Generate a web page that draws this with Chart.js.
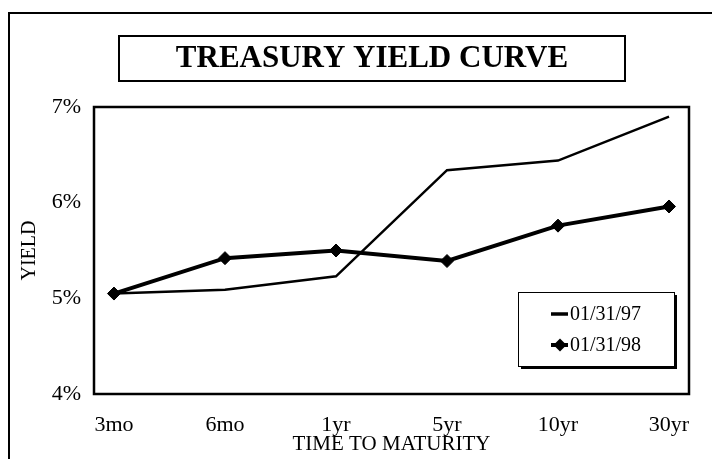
<!DOCTYPE html>
<html>
<head>
<meta charset="utf-8">
<script src="https://cdn.jsdelivr.net/npm/chart.js@4"></script>
<style>
  html, body { margin: 0; padding: 0; background: #ffffff; }
  #wrap { width: 712px; height: 459px; position: relative; }
</style>
</head>
<body>
<div id="wrap"><canvas id="c" width="712" height="459"></canvas></div>
<script>
// ---- data ----
const categories = ["3mo", "6mo", "1yr", "5yr", "10yr", "30yr"];
const yields9701 = [5.05, 5.09, 5.23, 6.34, 6.44, 6.90];
const yields9801 = [5.05, 5.42, 5.50, 5.39, 5.76, 5.96];
const seriesLabels = ["01/31/97", "01/31/98"];
const yTickValues = [4, 5, 6, 7];
const titleText = "TREASURY YIELD CURVE";
const xTitle = "TIME TO MATURITY";
const yTitle = "YIELD";

const SERIF = "'Liberation Serif', 'Times New Roman', serif";

function toPoints(arr) { return arr.map((v, i) => ({ x: i, y: v })); }

const framePlugin = {
  id: 'framePlugin',
  beforeDraw(chart) {
    const ctx = chart.ctx;
    ctx.save();
    ctx.fillStyle = '#ffffff';
    ctx.fillRect(0, 0, chart.width, chart.height);
    // outer frame
    ctx.strokeStyle = '#000';
    ctx.lineWidth = 2;
    ctx.strokeRect(9, 13, 720, 470);
    // title box
    ctx.lineWidth = 2;
    ctx.strokeRect(119, 36, 506, 45);
    ctx.fillStyle = '#000';
    ctx.font = "bold 31px " + SERIF;
    ctx.textAlign = 'center';
    ctx.textBaseline = 'middle';
    ctx.fillText(titleText, 372, 59);
    ctx.restore();
  },
  afterDraw(chart) {
    const ctx = chart.ctx;
    const a = chart.chartArea;
    ctx.save();
    ctx.strokeStyle = '#000';
    ctx.lineWidth = 2.5;
    ctx.strokeRect(a.left, a.top, a.right - a.left, a.bottom - a.top);
    // legend with shadow
    const lx = 518, ly = 292, lw = 156, lh = 74;
    ctx.fillStyle = '#000';
    ctx.fillRect(lx + 3, ly + 3, lw, lh);
    ctx.fillStyle = '#fff';
    ctx.fillRect(lx, ly, lw, lh);
    ctx.lineWidth = 1;
    ctx.strokeRect(lx + 0.5, ly + 0.5, lw, lh);
    const ds = chart.data.datasets;
    const rows = [314, 345];
    ds.forEach((d, i) => {
      const y = rows[i];
      ctx.strokeStyle = '#000';
      ctx.lineWidth = i === 0 ? 3.5 : d.borderWidth;
      ctx.beginPath();
      ctx.moveTo(551, y);
      ctx.lineTo(568, y);
      ctx.stroke();
      if (d.pointRadius > 0) {
        const r = d.pointRadius;
        ctx.fillStyle = '#000';
        ctx.beginPath();
        ctx.moveTo(560, y - r);
        ctx.lineTo(560 + r, y);
        ctx.lineTo(560, y + r);
        ctx.lineTo(560 - r, y);
        ctx.closePath();
        ctx.fill();
      }
      ctx.fillStyle = '#000';
      ctx.font = "20px " + SERIF;
      ctx.textAlign = 'left';
      ctx.textBaseline = 'middle';
      ctx.fillText(d.label, 570, y + 1);
    });
    ctx.restore();
  }
};

new Chart(document.getElementById('c'), {
  type: 'line',
  data: {
    datasets: [
      {
        label: seriesLabels[0],
        data: toPoints(yields9701),
        borderColor: '#000',
        backgroundColor: '#000',
        borderWidth: 2.5,
        pointRadius: 0,
        tension: 0
      },
      {
        label: seriesLabels[1],
        data: toPoints(yields9801),
        borderColor: '#000',
        backgroundColor: '#000',
        borderWidth: 4,
        pointStyle: 'rectRot',
        pointRadius: 6.5,
        pointBorderWidth: 1,
        tension: 0
      }
    ]
  },
  options: {
    responsive: false,
    animation: false,
    devicePixelRatio: 1,
    layout: { padding: { top: 107, right: 23, left: 0, bottom: 0 } },
    plugins: {
      legend: { display: false },
      title: { display: false },
      tooltip: { enabled: false }
    },
    scales: {
      x: {
        type: 'linear',
        min: -0.18,
        max: 5.18,
        grid: { display: false, drawTicks: false },
        border: { display: false },
        afterBuildTicks(scale) {
          scale.ticks = categories.map((_, i) => ({ value: i }));
        },
        afterFit(scale) { scale.height = 65; },
        ticks: {
          autoSkip: false,
          maxRotation: 0,
          padding: 18,
          color: '#000',
          font: { family: SERIF, size: 22 },
          callback: (v) => categories[v]
        },
        title: {
          display: true,
          text: xTitle,
          color: '#000',
          font: { family: SERIF, size: 21 },
          padding: { top: 0, bottom: 2 }
        }
      },
      y: {
        min: 4,
        max: 7,
        grid: { display: false, drawTicks: false },
        border: { display: false },
        afterBuildTicks(scale) {
          scale.ticks = yTickValues.map(v => ({ value: v }));
        },
        afterFit(scale) { scale.width = 94; },
        ticks: {
          padding: 13,
          color: '#000',
          font: { family: SERIF, size: 22 },
          callback: (v) => v + '%'
        },
        title: {
          display: true,
          text: yTitle,
          color: '#000',
          font: { family: SERIF, size: 20 },
          padding: { top: 18, bottom: 0 }
        }
      }
    }
  },
  plugins: [framePlugin]
});
</script>
</body>
</html>
